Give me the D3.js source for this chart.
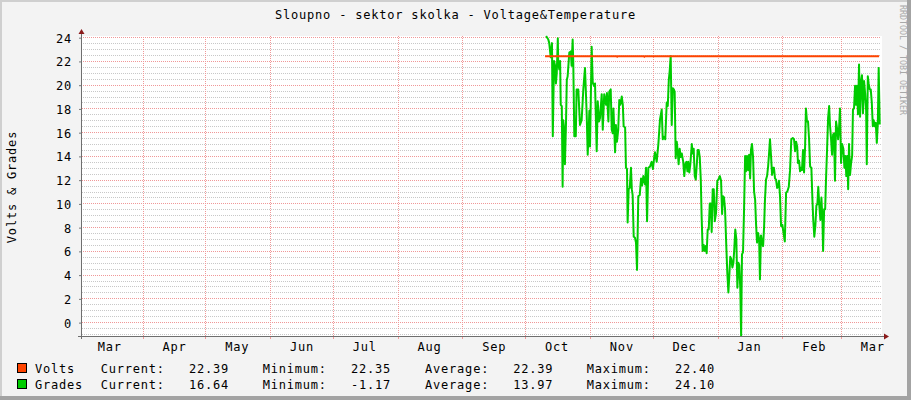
<!DOCTYPE html>
<html>
<head>
<meta charset="utf-8">
<script src="https://cdn.jsdelivr.net/npm/d3@7/dist/d3.min.js"></script>
<style>
  body { margin: 0; background: #fff; }
  text { font-family: "DejaVu Sans Mono", monospace; font-size: 12px; letter-spacing: 0.8px; fill: #000; }
</style>
</head>
<body>
<svg id="chart" width="911" height="400"></svg>
<script>
// time window of the graph
const domainStart = '2014-03-02T12:00:00Z'
const domainEnd = '2015-03-20T05:00:00Z'
// samples are [days since 1 Oct 2014, value]
const seriesStart = '2014-10-01T00:00:00Z'

const title = 'Sloupno - sektor skolka - Voltage&Temperature'
const yTitle = 'Volts & Grades'
const yTicks = [0, 2, 4, 6, 8, 10, 12, 14, 16, 18, 20, 22, 24]

const voltsSamples = [
  [9.5, 22.39], [43.7, 22.39], [44.0, 22.35], [44.3, 22.39],
  [56.7, 22.39], [57.0, 22.35], [57.3, 22.39], [169.3, 22.39]
]

const gradesSamples = [
  [10.0, 24.1], [11.05, 23.8], [11.5, 23.5], [12.2, 22.3], [12.8, 23.5], [13.2, 15.65], [13.8, 22.0], [14.3, 21.6],
  [14.7, 20.1], [15.1, 21.0], [15.6, 23.9], [15.8, 21.8], [16.3, 21.3], [16.7, 22.0], [17.0, 18.3], [17.5, 18.2],
  [17.9, 11.4], [18.2, 17.0], [18.7, 16.2], [19.0, 13.3], [19.5, 16.6], [19.9, 20.4], [20.3, 20.7], [21.1, 22.7],
  [21.8, 22.8], [22.2, 21.6], [22.7, 23.8], [23.0, 21.8], [23.5, 15.65], [24.2, 15.65], [24.6, 19.6], [25.4, 19.6],
  [26.2, 16.6], [27.0, 17.0], [27.8, 19.6], [28.6, 21.4], [29.4, 17.6], [29.9, 14.1], [30.7, 17.8], [31.0, 14.8],
  [31.8, 23.2], [32.3, 20.2], [32.9, 19.9], [33.4, 20.1], [34.2, 14.4], [34.7, 18.6], [35.3, 16.9], [35.8, 17.2],
  [36.6, 19.2], [37.1, 16.2], [37.8, 19.2], [38.7, 18.3], [39.1, 19.3], [39.8, 16.9], [40.2, 19.4], [40.9, 19.6],
  [41.4, 16.2], [41.9, 15.9], [42.2, 18.0], [42.6, 16.2], [43.0, 14.3], [43.4, 16.6], [43.9, 15.2], [44.5, 16.2],
  [45.0, 18.7], [45.5, 18.3], [46.2, 19.0], [46.7, 18.3], [47.1, 16.5], [47.8, 16.4], [48.2, 13.0], [48.7, 12.9],
  [49.0, 8.4], [49.5, 11.2], [50.0, 11.3], [50.6, 13.0], [51.0, 11.2], [51.4, 10.7], [51.9, 7.2], [52.5, 7.1],
  [53.0, 6.7], [53.5, 4.4], [54.1, 10.6], [54.8, 10.7], [55.4, 12.1], [55.9, 11.5], [56.5, 12.3], [57.3, 11.6],
  [57.8, 13.0], [58.3, 8.5], [58.9, 13.0], [59.7, 13.1], [60.5, 13.5], [61.1, 12.9], [61.8, 14.0], [62.1, 14.3],
  [62.9, 13.5], [63.7, 15.0], [64.5, 17.1], [65.3, 17.9], [65.8, 15.4], [66.4, 15.6], [67.0, 15.4], [67.7, 18.5],
  [68.2, 18.2], [68.7, 20.4], [69.1, 21.1], [69.6, 22.4], [70.1, 16.6], [70.6, 19.7], [71.1, 19.6], [71.5, 19.4],
  [72.0, 13.8], [72.5, 15.2], [73.0, 14.3], [73.4, 13.3], [73.9, 14.6], [74.4, 13.9], [74.9, 14.2], [75.6, 13.5],
  [76.1, 12.3], [76.6, 13.3], [77.1, 13.5], [77.6, 12.7], [78.0, 13.5], [78.5, 12.6], [79.0, 13.3], [79.7, 15.0],
  [80.1, 14.2], [80.6, 14.6], [81.1, 12.3], [81.6, 12.0], [82.1, 13.3], [82.5, 14.5], [83.0, 14.5], [83.5, 13.9],
  [84.0, 12.0], [84.4, 8.9], [84.9, 6.0], [85.4, 6.5], [85.9, 6.0], [86.4, 6.4], [86.8, 5.8], [87.3, 7.8],
  [87.8, 7.8], [88.3, 10.0], [88.8, 10.0], [89.2, 7.6], [89.7, 11.2], [90.2, 11.2], [90.7, 8.5], [91.3, 9.2],
  [91.9, 11.9], [92.4, 12.0], [93.1, 12.3], [93.7, 11.9], [94.2, 9.1], [94.6, 10.6], [95.1, 10.5], [95.6, 9.5],
  [96.2, 6.4], [96.7, 4.1], [97.2, 2.5], [97.7, 4.1], [98.1, 5.5], [98.6, 5.3], [99.1, 4.6], [99.6, 5.0],
  [100.0, 6.1], [100.5, 7.8], [101.0, 7.0], [101.5, 2.9], [102.0, 5.0], [102.4, 4.8], [102.9, 2.8], [103.3, -1.17],
  [103.7, 5.7], [104.2, 5.9], [104.7, 9.5], [105.2, 14.0], [105.6, 12.7], [106.1, 14.0], [106.6, 12.8], [107.1, 14.1],
  [107.6, 12.1], [108.0, 14.5], [108.5, 15.0], [109.0, 13.9], [109.5, 11.0], [110.0, 10.3], [110.4, 8.4], [110.9, 6.7],
  [111.4, 7.5], [111.9, 7.0], [112.3, 3.6], [112.8, 7.3], [113.3, 6.7], [113.8, 6.4], [114.3, 8.1], [114.7, 10.3],
  [115.2, 12.0], [115.7, 12.3], [116.2, 13.1], [116.7, 14.3], [117.1, 15.4], [117.6, 14.0], [118.1, 12.4], [118.6, 13.0],
  [119.0, 13.0], [119.5, 12.1], [120.0, 12.0], [120.5, 11.3], [121.0, 11.4], [121.4, 11.9], [121.9, 10.6], [122.4, 8.1],
  [123.0, 8.2], [124.2, 6.8], [124.8, 10.9], [125.4, 11.0], [126.1, 11.4], [126.7, 12.8], [127.3, 15.4], [128.0, 15.5],
  [128.6, 15.4], [129.1, 14.4], [129.6, 15.2], [130.1, 14.8], [130.5, 13.4], [131.0, 13.6], [131.5, 12.7], [132.0, 13.0],
  [132.4, 12.8], [132.9, 14.5], [133.4, 12.6], [133.9, 14.8], [134.3, 18.0], [134.8, 16.9], [135.3, 16.9], [135.8, 15.4],
  [136.3, 13.1], [136.9, 13.0], [137.4, 10.3], [137.8, 8.6], [138.3, 7.2], [138.8, 8.1], [139.3, 9.8], [139.8, 10.0],
  [140.2, 11.4], [140.7, 9.8], [141.2, 8.6], [141.7, 10.5], [142.2, 8.6], [142.5, 6.0], [143.0, 9.5], [143.5, 9.5],
  [143.9, 12.0], [144.4, 14.5], [144.9, 17.2], [145.4, 18.2], [145.8, 16.6], [146.3, 15.5], [146.8, 14.1], [147.3, 15.8],
  [147.7, 15.9], [148.2, 11.9], [148.7, 16.9], [149.2, 16.3], [149.7, 15.4], [150.1, 16.2], [150.6, 18.0], [151.1, 13.4],
  [151.6, 15.0], [152.2, 14.6], [152.7, 13.0], [153.2, 14.0], [153.6, 12.3], [154.1, 14.0], [154.5, 11.2], [154.9, 15.0],
  [155.4, 12.4], [155.9, 13.4], [156.4, 14.0], [156.8, 17.9], [157.3, 18.0], [157.8, 19.9], [158.3, 18.3], [158.7, 19.9],
  [159.2, 17.5], [159.7, 21.7], [160.2, 17.3], [160.7, 20.3], [161.1, 20.8], [161.6, 17.6], [162.1, 20.3], [162.6, 19.3],
  [163.1, 17.8], [163.4, 13.3], [163.9, 20.7], [164.3, 20.1], [164.8, 19.6], [165.3, 19.6], [165.8, 18.5], [166.3, 16.5],
  [166.7, 17.0], [167.2, 16.5], [167.7, 16.8], [168.2, 15.1], [168.7, 16.8], [169.1, 21.4], [169.6, 16.64]
]

const legendNames = ['Volts', 'Grades']
const legendCurrent = ['22.39', '16.64']
const legendMinimum = ['22.35', '-1.17']
const legendAverage = ['22.39', '13.97']
const legendMaximum = ['22.40', '24.10']
const credit = 'RRDTOOL / TOBI OETIKER'

const W = 911, H = 400
const plot = { left: 81, right: 881, top: 36, bottom: 336 }
const colors = { volts: '#ff4400', grades: '#00cc00' }

const svg = d3.select('#chart')
const day = 864e5
const t0 = new Date(seriesStart).getTime()
const toDate = d => new Date(t0 + d * day)

const xScale = d3.scaleUtc()
  .domain([new Date(domainStart), new Date(domainEnd)])
  .range([plot.left, plot.right])

// rrdtool alt-autoscale: exact data extent
const yExtent = d3.extent(gradesSamples.concat(voltsSamples), d => d[1])
const yScale = d3.scaleLinear()
  .domain(yExtent)
  .range([plot.bottom, plot.top])

// dotted grid = 1px rects filled with a checker pattern, so every row/column gets dots
const defs = svg.append('defs')
const addDots = (id, color) => {
  const p = defs.append('pattern')
    .attr('id', id)
    .attr('patternUnits', 'userSpaceOnUse')
    .attr('width', 2).attr('height', 2)
  p.append('rect').attr('width', 1).attr('height', 1).attr('fill', color)
  p.append('rect').attr('x', 1).attr('y', 1).attr('width', 1).attr('height', 1).attr('fill', color)
}
addDots('dotGrey', '#c8c8c8')
addDots('dotRed', '#f09898')

// background + 3d frame
svg.append('rect').attr('width', W).attr('height', H).attr('fill', '#f3f3f3')
svg.append('rect').attr('width', W).attr('height', 2).attr('fill', '#cfcfcf')
svg.append('rect').attr('width', 2).attr('height', H).attr('fill', '#cfcfcf')
svg.append('rect').attr('x', W - 4).attr('width', 4).attr('height', H).attr('fill', '#a3a3a3')
svg.append('rect').attr('y', H - 4).attr('width', W).attr('height', 4).attr('fill', '#a3a3a3')

svg.append('rect')
  .attr('x', plot.left).attr('y', plot.top)
  .attr('width', plot.right - plot.left + 1).attr('height', plot.bottom - plot.top)
  .attr('fill', '#ffffff')

const px = v => Math.round(v)

// minor horizontal grid every 0.5
const minorY = d3.range(Math.ceil(yExtent[0] * 2) / 2, yExtent[1], 0.5).filter(v => v % 2 !== 0)
svg.append('g').selectAll('rect')
  .data(minorY)
  .enter().append('rect')
    .attr('x', plot.left).attr('width', plot.right - plot.left)
    .attr('y', d => px(yScale(d))).attr('height', 1)
    .attr('fill', 'url(#dotGrey)')

// major horizontal grid
svg.append('g').selectAll('rect')
  .data(yTicks)
  .enter().append('rect')
    .attr('x', plot.left).attr('width', plot.right - plot.left)
    .attr('y', d => px(yScale(d))).attr('height', 1)
    .attr('fill', 'url(#dotRed)')

// month grid
const monthStarts = d3.utcMonth.range(xScale.domain()[0], xScale.domain()[1])
svg.append('g').selectAll('rect')
  .data(monthStarts)
  .enter().append('rect')
    .attr('x', d => px(xScale(d))).attr('width', 1)
    .attr('y', plot.top).attr('height', plot.bottom - plot.top)
    .attr('fill', 'url(#dotRed)')

// y labels
const yAxis = svg.append('g')
  .attr('transform', `translate(${plot.left},0.5)`)
  .call(d3.axisLeft(yScale).tickValues(yTicks).tickSize(2).tickSizeOuter(0).tickPadding(7))
yAxis.select('.domain').remove()
yAxis.selectAll('line').attr('stroke', '#777')
yAxis.selectAll('text')
  .attr('font-family', null).attr('font-size', null)
  .attr('dy', '0.37em')

// month labels, centred on the 16th
const monthLabels = d3.utcMonth.range(d3.utcMonth.floor(xScale.domain()[0]), xScale.domain()[1])
  .map(m => d3.utcDay.offset(m, 15))
  .filter(d => d >= xScale.domain()[0] && d <= xScale.domain()[1])
const xAxis = svg.append('g')
  .attr('transform', `translate(0,${plot.bottom})`)
  .call(d3.axisBottom(xScale).tickValues(monthLabels).tickFormat(d3.utcFormat('%b')).tickSize(0).tickPadding(6.5))
xAxis.select('.domain').remove()
xAxis.selectAll('text').attr('font-family', null).attr('font-size', null)

// month ticks under the axis
svg.append('g').selectAll('rect')
  .data(monthStarts)
  .enter().append('rect')
    .attr('x', d => px(xScale(d))).attr('width', 1)
    .attr('y', plot.bottom).attr('height', 3)
    .attr('fill', '#f09898')

// data lines
const line = d3.line()
  .x(d => xScale(toDate(d[0])))
  .y(d => yScale(d[1]))

svg.append('path')
  .datum(gradesSamples)
  .attr('d', line)
  .attr('fill', 'none')
  .attr('stroke', colors.grades)
  .attr('stroke-width', 2)
  .attr('stroke-linejoin', 'round')

svg.append('path')
  .datum(voltsSamples)
  .attr('d', line)
  .attr('fill', 'none')
  .attr('stroke', colors.volts)
  .attr('stroke-width', 2)

// axis lines with arrows
svg.append('rect')
  .attr('x', plot.left).attr('width', 1)
  .attr('y', plot.top - 4).attr('height', plot.bottom - plot.top + 7)
  .attr('fill', '#6e6e6e')
svg.append('rect')
  .attr('x', plot.left - 3).attr('width', plot.right - plot.left + 7)
  .attr('y', plot.bottom).attr('height', 1)
  .attr('fill', '#6e6e6e')
svg.append('path')
  .attr('d', `M${plot.left - 2.5},${plot.top - 2}L${plot.left + 3.5},${plot.top - 2}L${plot.left + 0.5},${plot.top - 7}Z`)
  .attr('fill', '#8b1a1a')
svg.append('path')
  .attr('d', `M${plot.right + 3},${plot.bottom - 2.5}L${plot.right + 3},${plot.bottom + 3.5}L${plot.right + 8},${plot.bottom + 0.5}Z`)
  .attr('fill', '#8b1a1a')

// titles
svg.append('text')
  .attr('x', W / 2).attr('y', 19)
  .attr('text-anchor', 'middle')
  .text(title)

svg.append('text')
  .attr('transform', `translate(16,${(plot.top + plot.bottom) / 2 + 1}) rotate(-90)`)
  .attr('text-anchor', 'middle')
  .text(yTitle)

svg.append('text')
  .attr('transform', 'translate(900,5) rotate(90)')
  .style('font-size', '8.3px')
  .style('letter-spacing', '0px')
  .style('fill', '#a8a8a8')
  .text(credit)

// legend
const legendColors = [colors.volts, colors.grades]
const legendCols = [
  { label: 'Current:', x: 100.7, values: legendCurrent },
  { label: 'Minimum:', x: 262.7, values: legendMinimum },
  { label: 'Average:', x: 425, values: legendAverage },
  { label: 'Maximum:', x: 586.7, values: legendMaximum }
]
const legend = svg.append('g')
legendNames.forEach((name, i) => {
  const base = 373 + i * 16
  legend.append('rect')
    .attr('x', 17.5).attr('y', base - 9.5)
    .attr('width', 9).attr('height', 9)
    .attr('fill', legendColors[i])
    .attr('stroke', '#000')
  legend.append('text').attr('x', 35).attr('y', base).text(name)
  legendCols.forEach(col => {
    legend.append('text').attr('x', col.x).attr('y', base).text(col.label)
    legend.append('text')
      .attr('x', col.x + 128.4).attr('y', base)
      .attr('text-anchor', 'end')
      .text(col.values[i])
  })
})
</script>
</body>
</html>
